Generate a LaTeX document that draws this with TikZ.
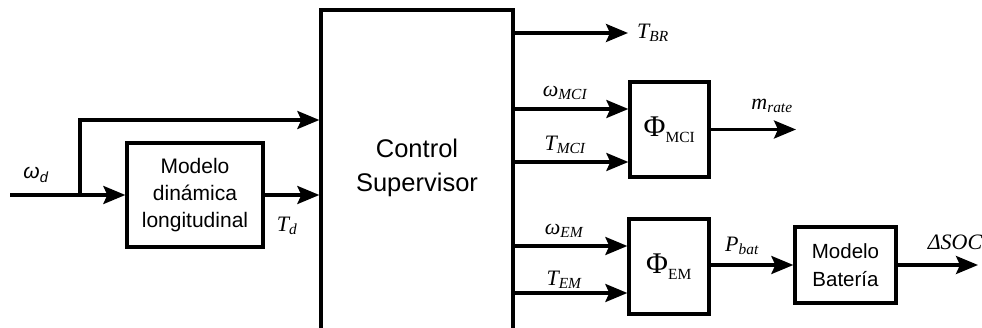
\documentclass[tikz,border=0pt]{standalone}
\usepackage{fontspec}
\setmainfont{Liberation Serif}
\setsansfont{Liberation Sans}
\usetikzlibrary{arrows.meta,calc}
\newcommand{\lbl}[2]{{\fontsize{22}{24}\selectfont\itshape #1\textsubscript{#2}}}
\newcommand{\phib}[1]{{\rmfamily\fontsize{30}{32}\selectfont Φ\textsubscript{\raisebox{-0.2ex}{\fontsize{15.5}{16}\selectfont #1}}}}
\begin{document}
\begin{tikzpicture}[x=1pt,y=-1pt,
  blk/.style={draw,line width=3.3pt,inner sep=0pt,font=\sffamily,align=center},
  arr/.style={line width=3.3pt,-{Stealth[length=22pt,width=18pt,inset=4pt]}},
  ln/.style={line width=3.3pt},
  lab/.style={inner sep=0pt,anchor=center}]
\useasboundingbox (0,0) rectangle (982,328);
% blocks
\node[blk,minimum width=192pt,minimum height=330pt] (CS) at (417,175) {};
\node[font=\sffamily\fontsize{25.5}{34}\selectfont,align=center] (CST) at (417,168) {Control\\Supervisor};
\node[blk,minimum width=136pt,minimum height=104pt,font=\sffamily\fontsize{21}{27}\selectfont] (MDL) at (195,195) {Modelo\\dinámica\\longitudinal};
\node[blk,minimum width=79pt,minimum height=95pt] (MCI) at (669.5,129.5) {\phib{MCI}};
\node[blk,minimum width=80pt,minimum height=95pt] (EM) at (669,266.5) {\phib{EM}};
\node[blk,minimum width=101pt,minimum height=76pt,font=\sffamily\fontsize{20.5}{28}\selectfont] (BAT) at (845.5,265) {Modelo\\Batería};
% coordinates
\coordinate (in) at (10,195);
\coordinate (br) at (80,195);
\coordinate (tbr) at (628,33);
\coordinate (mr) at (796,129.5);
\coordinate (soc) at (978,265);
% connectors
\draw[ln] (in) -- (br);
\draw[arr] (br) -- (MDL.west);
\draw[arr] (br) |- (CS.west |- 0,120);
\draw[arr] (MDL.east) -- (CS.west |- MDL.east);
\draw[arr] (CS.east |- tbr) -- (tbr);
\draw[arr] (CS.east |- 0,109) -- (MCI.west |- 0,109);
\draw[arr] (CS.east |- 0,162) -- (MCI.west |- 0,162);
\draw[arr] (MCI.east) -- (mr);
\draw[arr] (CS.east |- 0,246) -- (EM.west |- 0,246);
\draw[arr] (CS.east |- 0,293) -- (EM.west |- 0,293);
\draw[arr] (EM.east |- BAT.west) -- (BAT.west);
\draw[arr] (BAT.east) -- (soc);
% labels
\node[lab] (lwd) at (36,175) {{\sffamily\itshape\fontsize{21}{24}\selectfont ω\textsubscript{d}}};
\node[lab] (ltd) at (287,226) {\lbl{T}{d}};
\node[lab] (ltbr) at (653,33) {\lbl{T}{BR}};
\node[lab] (lwm) at (565,93) {\lbl{ω}{MCI}};
\node[lab] (ltm) at (565,145) {\lbl{T}{MCI}};
\node[lab] (lmr) at (772,106) {\lbl{m}{rate}};
\node[lab] (lwe) at (564,231) {\lbl{ω}{EM}};
\node[lab] (lte) at (564,280) {\lbl{T}{EM}};
\node[lab] (lpb) at (742,246) {\lbl{P}{bat}};
\node[lab] (lsoc) at (955,242) {{\fontsize{22}{24}\selectfont\itshape ΔSOC}};
\end{tikzpicture}
\end{document}
